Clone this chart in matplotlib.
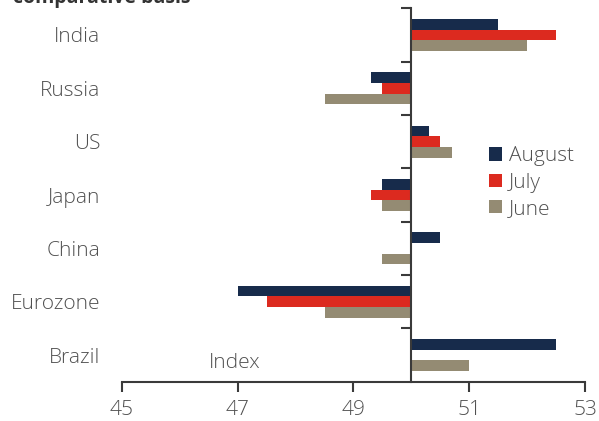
import numpy as np
import matplotlib.pyplot as plt
from matplotlib.patches import Patch

# -------------------------
# Daten
# -------------------------

countries = ["India", "Russia", "US", "Japan", "China", "Eurozone", "Brazil"]
august = [51.5, 49.3, 50.3, 49.5, 50.5, 47.0, 52.5]
july = [52.5, 49.5, 50.5, 49.3, np.nan, 47.5, np.nan]
june = [52.0, 48.5, 50.7, 49.5, 49.5, 48.5, 51.0]
series_names = ["August", "July", "June"]

x_ticks = [45, 47, 49, 51, 53]
baseline = 50

COLOR_AUG = "#172b4b"
COLOR_JUL = "#dc2a1f"
COLOR_JUN = "#948b73"
TEXT_COLOR = "#505050"
AXIS_COLOR = "#3a3a3a"

plt.rcParams["font.family"] = ["Open Sans", "DejaVu Sans"]

# -------------------------
# Plot
# -------------------------

fig = plt.figure(figsize=(5.99, 4.21), dpi=100, facecolor="white")
ax = fig.add_axes([0.2037, 0.0933, 0.7729, 0.887])

y = np.arange(len(countries))
h = 0.2
for vals, off, col in [(august, -h, COLOR_AUG), (july, 0, COLOR_JUL), (june, h, COLOR_JUN)]:
    vals = np.array(vals, dtype=float)
    ax.barh(y + off, vals - baseline, left=baseline, height=h, color=col,
            edgecolor="none")

ax.set_xlim(45, 53)
ax.set_ylim(len(countries) - 0.5, -0.5)

# Achsen
ax.spines["top"].set_visible(False)
ax.spines["right"].set_visible(False)
ax.spines["left"].set_position(("data", baseline))
for s in ["left", "bottom"]:
    ax.spines[s].set_color(AXIS_COLOR)
    ax.spines[s].set_linewidth(1.5)

ax.set_xticks(x_ticks)
ax.set_xticklabels([str(t) for t in x_ticks], fontsize=15, color=TEXT_COLOR,
                   fontweight="light")
ax.tick_params(axis="x", length=7, width=1.5, color=AXIS_COLOR, pad=6)

ax.set_yticks(np.arange(-0.5, len(countries) - 1, 1.0))
ax.set_yticklabels([])
ax.tick_params(axis="y", length=7, width=1.5, color=AXIS_COLOR)

# Ländernamen links
for i, c in enumerate(countries):
    ax.text(-0.047, i, c, transform=ax.get_yaxis_transform(), ha="right",
            va="center_baseline", fontsize=15, color=TEXT_COLOR,
            fontweight="light")

ax.text(46.5, 6.1, "Index", ha="left", va="center_baseline", fontsize=15,
        color=TEXT_COLOR, fontweight="light")

# Titel (oben abgeschnitten)
fig.text(13 / 599, 1 - 3 / 421, "comparative basis", ha="left", va="baseline",
         fontsize=14, fontweight="bold", color="#333333")

# Legende
handles = [Patch(facecolor=c, label=n) for c, n in
           zip([COLOR_AUG, COLOR_JUL, COLOR_JUN], series_names)]
leg = ax.legend(handles=handles, loc="upper left",
                bbox_to_anchor=(479 / 599, 1 - 136 / 421),
                bbox_transform=fig.transFigure, frameon=False,
                fontsize=15, handlelength=0.6, handleheight=0.6,
                handletextpad=0.35, labelspacing=0.3, borderpad=0)
for t in leg.get_texts():
    t.set_color(TEXT_COLOR)
    t.set_fontweight("light")

plt.savefig("out.png", dpi=100)
